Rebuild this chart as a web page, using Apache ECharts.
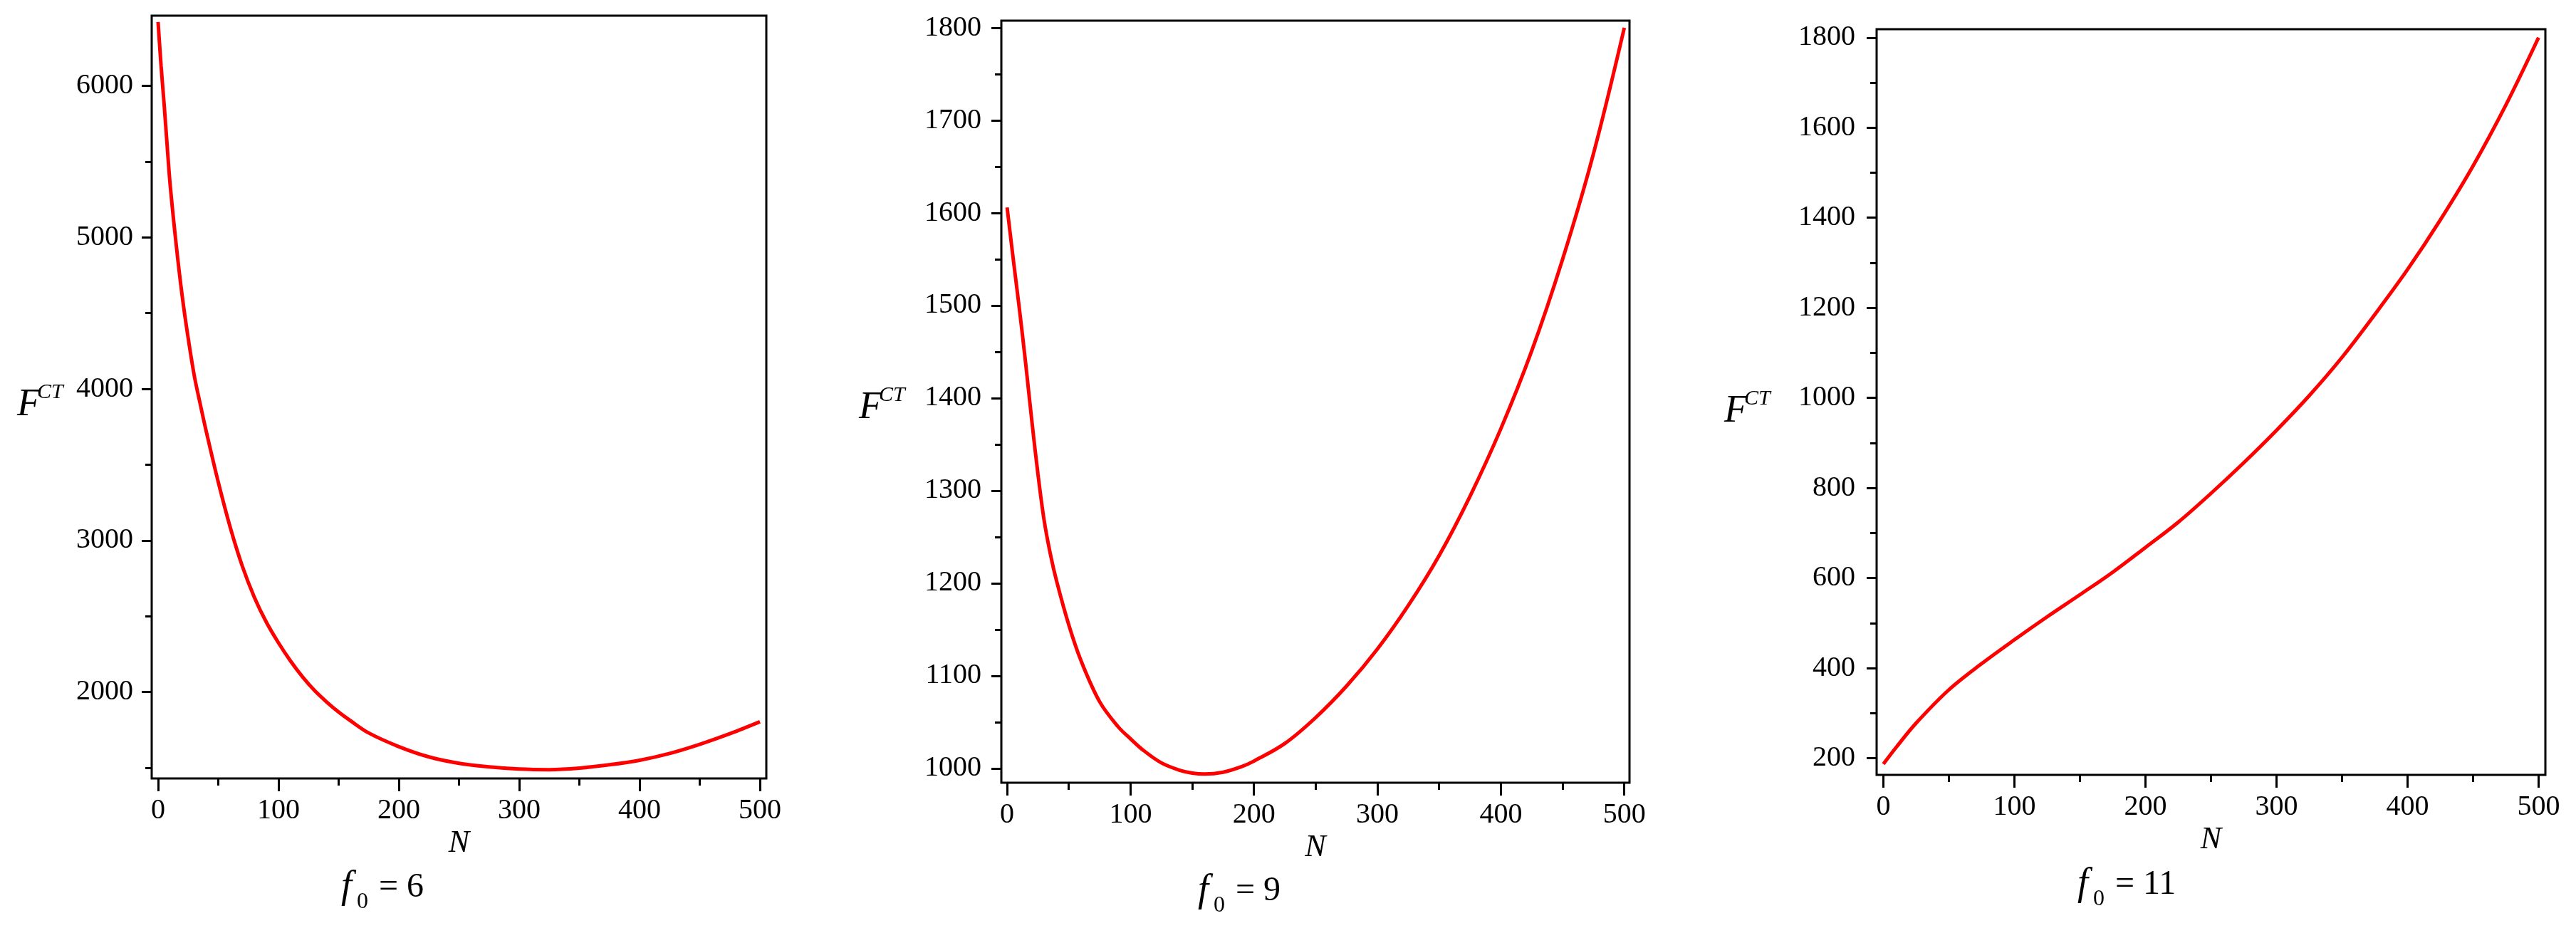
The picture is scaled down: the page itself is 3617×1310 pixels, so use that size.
<!DOCTYPE html>
<html>
<head>
<meta charset="utf-8">
<title>F^CT against N</title>
<script src="https://cdn.jsdelivr.net/npm/echarts@6.0.0/dist/echarts.min.js"></script>
<style>
  html, body { margin: 0; padding: 0; background: #fff; }
  #chart { width: 3617px; height: 1310px; }
</style>
</head>
<body>
<div id="chart"></div>
<script>
// values
var n6 = [0, 2.5, 5, 7.5, 10, 15, 20, 25, 30, 35, 40, 50, 60, 70, 80, 90, 100, 110, 120, 130, 140, 150, 160, 175, 200, 225, 250, 275, 300, 325, 350, 375, 400, 425, 450, 475, 500]
var fct6 = [6420, 6130, 5880, 5610, 5350, 4955, 4615, 4335, 4090, 3900, 3720, 3385, 3085, 2830, 2625, 2460, 2325, 2205, 2100, 2010, 1935, 1868, 1810, 1730, 1640, 1572, 1530, 1506, 1492, 1488, 1498, 1520, 1550, 1595, 1655, 1725, 1804]

var n9 = [0, 5, 10, 15, 20, 25, 30, 35, 40, 50, 60, 75, 90, 100, 110, 125, 140, 150, 160, 175, 190, 200, 225, 250, 275, 300, 325, 350, 375, 400, 425, 450, 475, 500]
var fct9 = [1606, 1550, 1496, 1438, 1376, 1318, 1268, 1232, 1203, 1155, 1116, 1072, 1045, 1032, 1020, 1006, 998, 995, 994, 996, 1002, 1008, 1027, 1055, 1089, 1129, 1176, 1230, 1294, 1367, 1451, 1550, 1664, 1800]

var n11 = [0, 10, 25, 50, 75, 100, 125, 150, 175, 200, 225, 250, 275, 300, 325, 350, 375, 400, 425, 450, 475, 500]
var fct11 = [187, 225, 278, 352, 410, 463, 514, 563, 613, 668, 724, 788, 856, 928, 1005, 1090, 1185, 1285, 1395, 1515, 1650, 1800]

// tick labels
var xMajor = [0, 100, 200, 300, 400, 500]
var xMinor = [50, 150, 250, 350, 450]
var yMajor6 = [2000, 3000, 4000, 5000, 6000]
var yMinor6 = [1500, 2500, 3500, 4500, 5500]
var yMajor9 = [1000, 1100, 1200, 1300, 1400, 1500, 1600, 1700, 1800]
var yMinor9 = [1050, 1150, 1250, 1350, 1450, 1550, 1650, 1750]
var yMajor11 = [200, 400, 600, 800, 1000, 1200, 1400, 1600, 1800]
var yMinor11 = [300, 500, 700, 900, 1100, 1300, 1500, 1700]
var f0Values = ['6', '9', '11']

var SERIF = '"Liberation Serif", "Times New Roman", serif'

var panels = [
  { n: n6, f: fct6, yMajor: yMajor6, yMinor: yMinor6, grid: { left: 213, top: 22, width: 863, height: 1071 }, xRange: [-5.3, 505.3], yRange: [1430, 6462], yMargin: 26, nameX: 24, nameY: 569, capX: 479, capY: 1246 },
  { n: n9, f: fct9, yMajor: yMajor9, yMinor: yMinor9, grid: { left: 1406, top: 29, width: 882, height: 1070 }, xRange: [-4.66, 504.2], yRange: [984.6, 1807.7], yMargin: 28, nameX: 1206, nameY: 573, capX: 1682, capY: 1251 },
  { n: n11, f: fct11, yMajor: yMajor11, yMinor: yMinor11, grid: { left: 2635, top: 41, width: 939, height: 1047 }, xRange: [-5.15, 505.2], yRange: [163, 1818.6], yMargin: 30, nameX: 2421, nameY: 578, capX: 2917, capY: 1242 }
]

function tickAxis(gridIndex, isX, range, values, len, labelled, margin) {
  var axis = {
    type: 'value',
    gridIndex: gridIndex,
    position: isX ? 'bottom' : 'left',
    min: range[0],
    max: range[1],
    splitLine: { show: false },
    axisLine: { show: false, onZero: false },
    axisTick: { show: true, customValues: values, length: len, lineStyle: { color: '#000', width: 3 } },
    axisLabel: { show: false }
  }
  if (labelled) {
    axis.axisLabel = {
      show: true,
      customValues: values,
      margin: margin,
      color: '#000',
      fontFamily: SERIF,
      fontSize: 40,
      formatter: function(v) { return String(v) }
    }
  }
  return axis
}

function txt(text, x, y, size, italic) {
  return {
    type: 'text',
    x: x,
    y: y,
    style: {
      text: text,
      fill: '#000',
      fontFamily: SERIF,
      fontSize: size,
      fontStyle: italic ? 'italic' : 'normal',
      align: 'left',
      verticalAlign: 'middle'
    }
  }
}

var grids = []
var xAxes = []
var yAxes = []
var series = []
var graphics = []

panels.forEach(function(p, i) {
  grids.push(Object.assign({ show: true, borderColor: '#000', borderWidth: 3, backgroundColor: 'transparent', containLabel: false }, p.grid))

  var xMain = tickAxis(i, true, p.xRange, xMajor, 18, true, 25)
  xMain.name = 'N'
  xMain.nameLocation = 'middle'
  xMain.nameGap = 65
  xMain.nameTextStyle = { fontFamily: SERIF, fontStyle: 'italic', fontSize: 44, color: '#000' }
  xAxes.push(xMain)
  xAxes.push(tickAxis(i, true, p.xRange, xMinor, 10, false))

  yAxes.push(tickAxis(i, false, p.yRange, p.yMajor, 14, true, p.yMargin))
  yAxes.push(tickAxis(i, false, p.yRange, p.yMinor, 9, false))

  series.push({
    type: 'line',
    xAxisIndex: i * 2,
    yAxisIndex: i * 2,
    data: p.n.map(function(v, k) { return [v, p.f[k]] }),
    showSymbol: false,
    symbol: 'none',
    smooth: 0.35,
    lineStyle: { color: '#ff0000', width: 5 },
    animation: false
  })

  // F^CT axis title
  graphics.push(txt('F', p.nameX, p.nameY, 54, true))
  graphics.push(txt('CT', p.nameX + 28, p.nameY - 18, 30, true))

  // f_0 = ... caption
  graphics.push(txt('f', p.capX, p.capY, 54, true))
  graphics.push(txt('0', p.capX + 22, p.capY + 21, 32, false))
  graphics.push(txt('= ' + f0Values[i], p.capX + 53, p.capY, 48, false))
})

var chart = echarts.init(document.getElementById('chart'), null, { renderer: 'canvas' })
chart.setOption({
  backgroundColor: '#fff',
  animation: false,
  grid: grids,
  xAxis: xAxes,
  yAxis: yAxes,
  series: series,
  graphic: graphics
})
</script>
</body>
</html>
